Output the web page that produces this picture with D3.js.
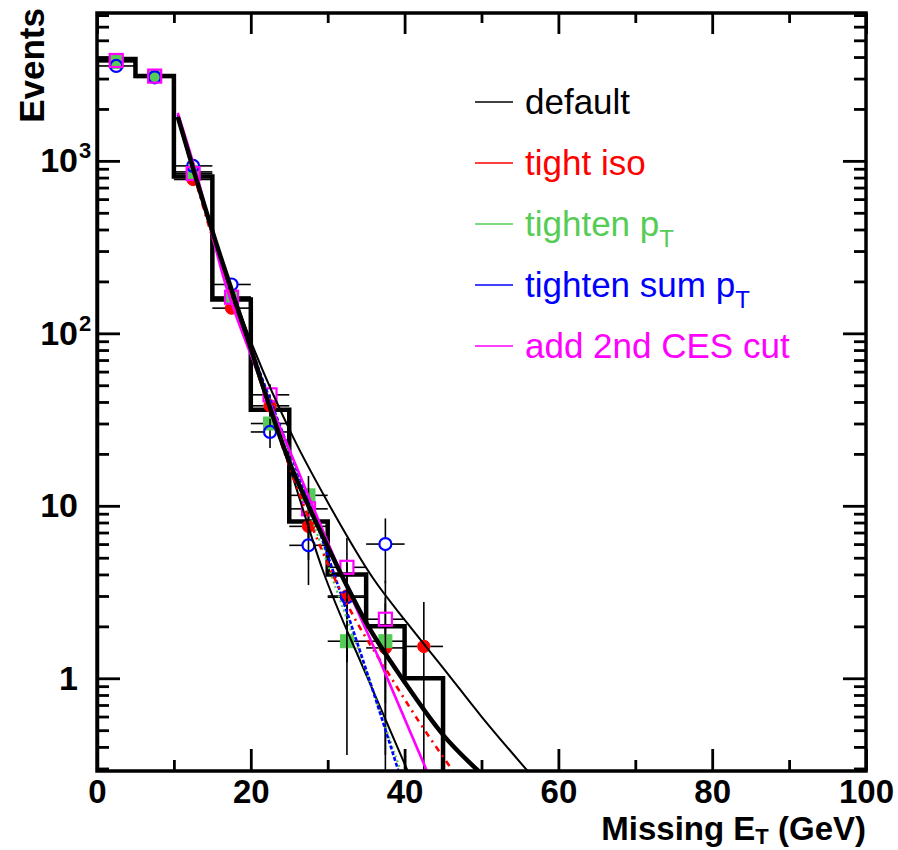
<!DOCTYPE html>
<html>
<head>
<meta charset="utf-8">
<script src="https://cdn.jsdelivr.net/npm/d3@7"></script>
<style>
body { margin: 0; background: #fff; }
svg text { font-family: "Liberation Sans", Arial, Helvetica, sans-serif; }
</style>
</head>
<body>
<div id="chart"></div>
<script>
// ---- data ----
var binEdges = [0, 5, 10, 15, 20, 25, 30, 35, 40, 45];
var binCenters = [2.5, 7.5, 12.5, 17.5, 22.5, 27.5, 32.5, 37.5, 42.5];
var defaultHist = [3900, 3100, 811, 157, 36, 8.1, 4.0, 2.0, 1.0];
var tightIso = [3800, 3080, 780, 140, 38, 7.6, 3.0, 1.5, 1.53];
var tightenPt = [3750, 3100, 863, 162, 30, 11.5, 1.64, 1.64, null];
var tightenSumPt = [3550, 3050, 935, 192, 26.8, 5.9, 2.95, 6.0, null];
var add2ndCES = [3820, 3100, 844, 162, 44, 9.6, 4.4, 2.2, null];

// fitted curves, points [x, y]
var fitDefault = [[10.5, 1800], [13, 760], [15.3, 355], [17.7, 168], [20, 82], [22.5, 37], [25, 18], [27.5, 10], [30, 5.8], [35, 2.1], [40, 0.95], [45, 0.47], [49.6, 0.29]];
var fitDefaultHi = [[10.5, 1800], [15, 380], [20, 90], [25.5, 25], [30, 10.5], [35.9, 3.8], [40.3, 2.1], [45, 1.15], [50, 0.6], [56, 0.29]];
var fitDefaultLo = [[10.5, 1800], [15, 370], [20, 76], [25, 17], [29.3, 4.3], [35, 1.05], [40.4, 0.29]];
var fitTightIso = [[10.5, 1800], [15, 360], [20, 78], [25, 17], [28, 7.5], [32.9, 2.5], [38, 1.05], [42, 0.55], [46.3, 0.29]];
var fitTightenPt = [[10.5, 1800], [15, 370], [20, 81], [25, 20], [28, 8.3], [31.2, 3.2], [35.3, 1.0], [39.5, 0.29]];
var fitTightenSumPt = [[10.5, 1850], [15, 380], [20, 83], [25, 21], [28, 9.3], [31.2, 3.6], [35, 1.12], [39.2, 0.29]];
var fitAdd2ndCES = [[10.5, 1900], [13, 820], [16.6, 200], [21, 58], [26.4, 15], [32, 3.8], [37, 1.2], [42.9, 0.29]];

var xMajorTicks = [0, 20, 40, 60, 80, 100];
var xMinorTicks = [10, 30, 50, 70, 90];
var yMajorTicks = [1, 10, 100, 1000];
var yTickBase = ["1", "10", "10", "10"];
var yTickExp = ["", "", "2", "3"];

var legendLabels = ["default", "tight iso", "tighten p", "tighten sum p", "add 2nd CES cut"];
var legendSubs = ["", "", "T", "T", ""];
var legendColors = ["#000000", "#ff0000", "#55cc55", "#0000ff", "#ff00ff"];

// ---- layout ----
var W = 898, H = 850;
var x0 = 97, x1 = 866, y0 = 771, y1 = 13;
var xScale = d3.scaleLinear().domain([0, 100]).range([x0, x1]);
var yScale = d3.scaleLog().domain([0.29, 7200]).range([y0, y1]);

var svg = d3.select("#chart").append("svg")
    .attr("width", W)
    .attr("height", H);

svg.append("clipPath").attr("id", "plot-clip")
    .append("rect")
    .attr("x", x0).attr("y", y1)
    .attr("width", x1 - x0).attr("height", y0 - y1);

// minor log ticks
var yMinorTicks = [];
[0.1, 1, 10, 100, 1000].forEach(function(d) {
    for (var m = 2; m <= 9; m++) {
        var v = d * m;
        if (v >= 0.29 && v <= 7200) yMinorTicks.push(v);
    }
});

function styleAxis(g) {
    g.select(".domain").remove();
    g.selectAll("line").attr("stroke", "#000").attr("stroke-width", 2.8);
    g.attr("font-family", null).attr("font-size", 33).attr("font-weight", "bold");
}

// bottom axis
svg.append("g").attr("transform", "translate(0," + y0 + ")")
    .call(d3.axisBottom(xScale).tickValues(xMajorTicks).tickSize(-22).tickPadding(9).tickFormat(d3.format("d")))
    .call(styleAxis);
svg.append("g").attr("transform", "translate(0," + y0 + ")")
    .call(d3.axisBottom(xScale).tickValues(xMinorTicks).tickSize(-11).tickFormat(""))
    .call(styleAxis);
// top axis (mirror)
svg.append("g").attr("transform", "translate(0," + y1 + ")")
    .call(d3.axisTop(xScale).tickValues(xMajorTicks).tickSize(-21).tickFormat(""))
    .call(styleAxis);
svg.append("g").attr("transform", "translate(0," + y1 + ")")
    .call(d3.axisTop(xScale).tickValues(xMinorTicks).tickSize(-10).tickFormat(""))
    .call(styleAxis);

// left axis
var yAxisG = svg.append("g").attr("transform", "translate(" + x0 + ",0)")
    .call(d3.axisLeft(yScale).tickValues(yMajorTicks).tickSize(-23).tickPadding(19)
        .tickFormat(function(d, i) { return yTickBase[i]; }))
    .call(styleAxis);
yAxisG.attr("font-size", 34);
yAxisG.selectAll(".tick").each(function(d, i) {
    if (yTickExp[i]) {
        d3.select(this).append("text")
            .attr("x", -18)
            .attr("y", -3)
            .attr("fill", "#000")
            .attr("text-anchor", "start")
            .attr("font-size", 22)
            .text(yTickExp[i]);
    }
});
svg.append("g").attr("transform", "translate(" + x0 + ",0)")
    .call(d3.axisLeft(yScale).tickValues(yMinorTicks).tickSize(-12).tickFormat(""))
    .call(styleAxis);
// right axis (mirror)
svg.append("g").attr("transform", "translate(" + x1 + ",0)")
    .call(d3.axisRight(yScale).tickValues(yMajorTicks).tickSize(-23).tickFormat(""))
    .call(styleAxis);
svg.append("g").attr("transform", "translate(" + x1 + ",0)")
    .call(d3.axisRight(yScale).tickValues(yMinorTicks).tickSize(-12).tickFormat(""))
    .call(styleAxis);

var plot = svg.append("g").attr("clip-path", "url(#plot-clip)");

// default histogram as a step outline
var stepPts = [[binEdges[0], 0.01]];
defaultHist.forEach(function(v, i) {
    stepPts.push([binEdges[i], v]);
    stepPts.push([binEdges[i + 1], v]);
});
stepPts.push([binEdges[binEdges.length - 1], 0.01]);
plot.append("path")
    .attr("d", d3.line()
        .x(function(d) { return xScale(d[0]); })
        .y(function(d) { return yScale(d[1]); })(stepPts))
    .attr("fill", "none")
    .attr("stroke", "#000")
    .attr("stroke-width", 4.5)
    .attr("stroke-linejoin", "miter");

// marker series
var series = [
    {values: tightIso, color: "#ff0000", shape: "circle", filled: true},
    {values: tightenPt, color: "#55cc55", shape: "square", filled: true},
    {values: tightenSumPt, color: "#0000ff", shape: "circle", filled: false},
    {values: add2ndCES, color: "#ff00ff", shape: "square", filled: false}
];
var R = 6.5;
var halfBin = 2.5;

series.forEach(function(s) {
    var g = plot.append("g");
    var pts = [];
    s.values.forEach(function(v, i) { if (v) pts.push({x: binCenters[i], y: v}); });
    // error bars (Poisson), with a gap at the marker
    pts.forEach(function(p) {
        var err = Math.sqrt(p.y);
        var cx = xScale(p.x), cy = yScale(p.y);
        var top = yScale(p.y + err);
        var bot = p.y - err > 0 ? yScale(p.y - err) : y0 + 5;
        var segs = [];
        if (cy - top > R) segs.push([cx, top, cx, cy - R]);
        if (bot - cy > R) segs.push([cx, cy + R, cx, bot]);
        segs.push([xScale(p.x - halfBin), cy, cx - R, cy]);
        segs.push([cx + R, cy, xScale(p.x + halfBin), cy]);
        segs.forEach(function(l) {
            g.append("line")
                .attr("x1", l[0]).attr("y1", l[1]).attr("x2", l[2]).attr("y2", l[3])
                .attr("stroke", "#000").attr("stroke-width", 1.6);
        });
    });
    if (s.shape === "circle") {
        g.selectAll("circle").data(pts).enter().append("circle")
            .attr("cx", function(d) { return xScale(d.x); })
            .attr("cy", function(d) { return yScale(d.y); })
            .attr("r", s.filled ? R - 0.3 : R - 0.5)
            .attr("fill", s.filled ? s.color : "none")
            .attr("stroke", s.color)
            .attr("stroke-width", s.filled ? 1 : 2.2);
    } else {
        g.selectAll("rect.mk").data(pts).enter().append("rect")
            .attr("class", "mk")
            .attr("x", function(d) { return xScale(d.x) - R; })
            .attr("y", function(d) { return yScale(d.y) - R; })
            .attr("width", 2 * R).attr("height", 2 * R)
            .attr("fill", s.filled ? s.color : "none")
            .attr("stroke", s.color)
            .attr("stroke-width", s.filled ? 1 : 2.2);
    }
});

// fit curves
var fitLine = d3.line()
    .x(function(d) { return xScale(d[0]); })
    .y(function(d) { return yScale(d[1]); })
    .curve(d3.curveMonotoneX);
var fits = [
    {pts: fitDefaultHi, color: "#000", width: 2, dash: null},
    {pts: fitDefaultLo, color: "#000", width: 2, dash: null},
    {pts: fitTightenPt, color: "#55cc55", width: 2.2, dash: "2,3"},
    {pts: fitTightenSumPt, color: "#0000ff", width: 2.6, dash: "4,2"},
    {pts: fitTightIso, color: "#ff0000", width: 2.6, dash: "6,5,2,5"},
    {pts: fitAdd2ndCES, color: "#ff00ff", width: 2.6, dash: null},
    {pts: fitDefault, color: "#000", width: 4.5, dash: null}
];
fits.forEach(function(f) {
    plot.append("path")
        .attr("d", fitLine(f.pts))
        .attr("fill", "none")
        .attr("stroke", f.color)
        .attr("stroke-width", f.width)
        .attr("stroke-dasharray", f.dash);
});

// frame
svg.append("rect")
    .attr("x", x0).attr("y", y1)
    .attr("width", x1 - x0).attr("height", y0 - y1)
    .attr("fill", "none")
    .attr("stroke", "#000")
    .attr("stroke-width", 3.5);

// axis titles
var xt = svg.append("text")
    .attr("x", x1).attr("y", 840)
    .attr("text-anchor", "end")
    .attr("font-size", 33).attr("font-weight", "bold");
xt.append("tspan").text("Missing E");
xt.append("tspan").attr("font-size", 22).attr("dy", 4).text("T");
xt.append("tspan").attr("dy", -4).text(" (GeV)");

svg.append("text")
    .attr("transform", "translate(44,8) rotate(-90)")
    .attr("text-anchor", "end")
    .attr("font-size", 35).attr("font-weight", "bold")
    .text("Events");

// legend
var leg = svg.append("g");
legendLabels.forEach(function(lab, i) {
    var yy = 102 + i * 61;
    leg.append("line")
        .attr("x1", 475).attr("x2", 513).attr("y1", yy).attr("y2", yy)
        .attr("stroke", legendColors[i]).attr("stroke-width", 1.6);
    var t = leg.append("text")
        .attr("x", 525).attr("y", yy + 12)
        .attr("font-size", 35)
        .attr("fill", legendColors[i]);
    t.append("tspan").text(lab);
    if (legendSubs[i]) {
        t.append("tspan").attr("font-size", 24).attr("dy", 11).text(legendSubs[i]);
    }
});
</script>
</body>
</html>
